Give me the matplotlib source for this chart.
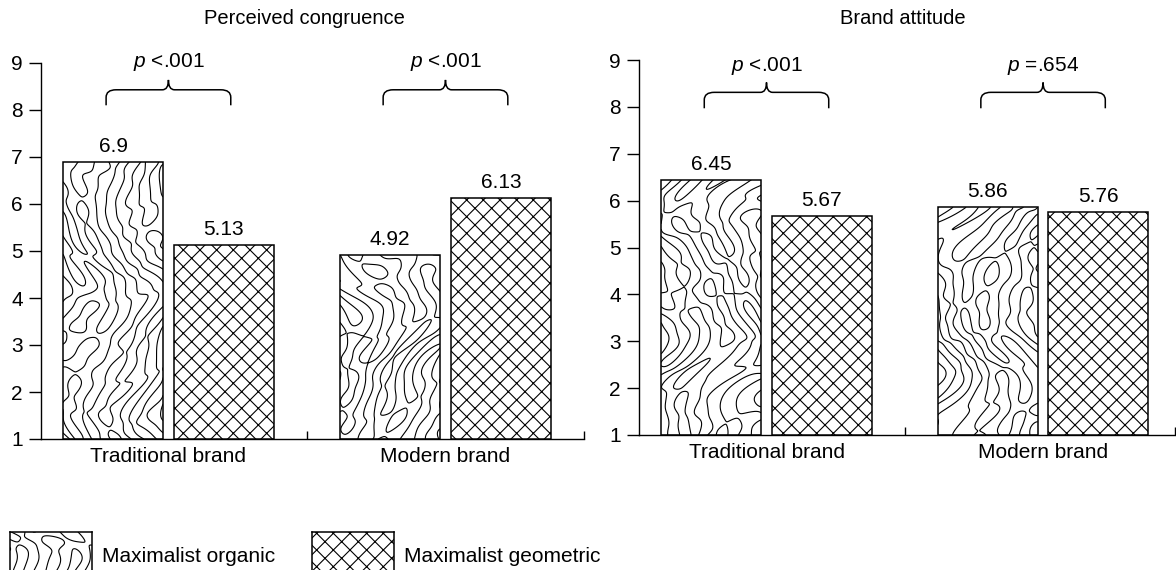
import numpy as np
import matplotlib
matplotlib.use("Agg")
import matplotlib.pyplot as plt
from matplotlib.patches import Rectangle, PathPatch
from matplotlib.path import Path

plt.rcParams['font.family'] = ['Liberation Sans', 'DejaVu Sans']
plt.rcParams['mathtext.fontset'] = 'custom'
plt.rcParams['mathtext.it'] = 'Liberation Sans:italic'
plt.rcParams['mathtext.rm'] = 'Liberation Sans'
plt.rcParams['hatch.linewidth'] = 0.8
plt.rcParams['hatch.color'] = 'black'

# ---------------- data ----------------
groups = ['Traditional brand', 'Modern brand']
series = ['Maximalist organic', 'Maximalist geometric']
panel_titles = ['Perceived congruence', 'Brand attitude']
congruence_organic = [6.9, 4.92]
congruence_geometric = [5.13, 6.13]
attitude_organic = [6.45, 5.86]
attitude_geometric = [5.67, 5.76]
congruence_p = ['<.001', '<.001']
attitude_p = ['<.001', '=.654']
value_labels_cong = [['6.9', '4.92'], ['5.13', '6.13']]
value_labels_att = [['6.45', '5.86'], ['5.67', '5.76']]
yticks = [1, 2, 3, 4, 5, 6, 7, 8, 9]

# ---------------- styling ----------------
W, H = 1176, 570
fig = plt.figure(figsize=(W / 100, H / 100), dpi=100)

FS = 15
OFFS = [-0.2, 0.2]
BW = 0.362
LW = 1.1

# texture (marbled stripes) parameters -- purely decorative
WAVE_ANGLES = np.deg2rad([0, 15, -15, 32, -35, 60, -65, 90])
WAVE_AMPS = [1.0, 0.85, 0.85, 0.6, 0.6, 0.4, 0.4, 0.3]
WAVELEN = 21.0


def organic_field(u, v, k):
    uu = (u + 22 * np.sin(v / 33.0 + k + 0.7 * np.sin(u / 40.0 + 2 * k))
          + 6 * np.sin(v / 14.0 + 2.3 * k))
    vv = v + 14 * np.sin(u / 27.0 + 0.7 * k)
    F = np.zeros_like(u)
    for i, (ang, amp) in enumerate(zip(WAVE_ANGLES, WAVE_AMPS)):
        ph = ((k + 1) * (i + 1) * 1.37) % (2 * np.pi)
        F += amp * np.cos(2 * np.pi / WAVELEN
                          * (uu * np.cos(ang) + vv * np.sin(ang)) + ph)
    return F


def fill_organic(ax, x0, x1, y0, y1, sx, sy, k, clip):
    nx = int((x1 - x0) * sx) + 40
    ny = int((y1 - y0) * sy) + 40
    X, Y = np.meshgrid(np.linspace(x0, x1, nx), np.linspace(y0, y1, ny))
    F = organic_field((X - x0) * sx, (Y - y0) * sy, k)
    cs = ax.contour(X, Y, F, levels=[0.0], colors='black', linewidths=0.8,
                    linestyles='solid', zorder=2)
    cs.set_clip_path(clip)
    return cs


def brace(ax, xc, hw, y_end, y_bar, y_peak, rx, ry, rx2):
    xl, xr = xc - hw, xc + hw
    verts = [(xl, y_end), (xl, y_bar - ry), (xl, y_bar), (xl + rx, y_bar),
             (xc - rx2, y_bar), (xc, y_bar), (xc, y_peak),
             (xc, y_bar), (xc + rx2, y_bar),
             (xr - rx, y_bar), (xr, y_bar), (xr, y_bar - ry), (xr, y_end)]
    codes = [Path.MOVETO, Path.LINETO, Path.CURVE3, Path.CURVE3,
             Path.LINETO, Path.CURVE3, Path.CURVE3,
             Path.CURVE3, Path.CURVE3,
             Path.LINETO, Path.CURVE3, Path.CURVE3, Path.LINETO]
    ax.add_patch(PathPatch(Path(verts, codes), fill=False, lw=1.1,
                           edgecolor='black', clip_on=False, zorder=4))


panels = [
    dict(rect=(41, 63, 584, 439), xlim=(-0.46, 1.5),
         org=congruence_organic, geo=congruence_geometric,
         labels=value_labels_cong, p=congruence_p,
         br=(8.1, 8.43, 8.64, 9.02), title_x=304),
    dict(rect=(639, 60, 1175, 435), xlim=(-0.461, 1.477),
         org=attitude_organic, geo=attitude_geometric,
         labels=value_labels_att, p=attitude_p,
         br=(7.97, 8.31, 8.52, 8.87), title_x=903),
]

kk = 0
for pi, P in enumerate(panels):
    l, t, r, b = P['rect']
    ax = fig.add_axes([l / W, (H - b) / H, (r - l) / W, (b - t) / H])
    ax.set_xlim(*P['xlim'])
    ax.set_ylim(1, 9)
    sx = (r - l) / (P['xlim'][1] - P['xlim'][0])
    sy = (b - t) / 8.0
    x = np.arange(len(groups))

    org_bars = ax.bar(x + OFFS[0], np.array(P['org']) - 1, BW, bottom=1,
                      color='white', edgecolor='none', zorder=1)
    for i, bar in enumerate(org_bars):
        fill_organic(ax, bar.get_x(), bar.get_x() + bar.get_width(), 1,
                     1 + bar.get_height(), sx, sy, kk, bar)
        kk += 1
    ax.bar(x + OFFS[0], np.array(P['org']) - 1, BW, bottom=1, fill=False,
           edgecolor='black', linewidth=LW, zorder=3)
    ax.bar(x + OFFS[1], np.array(P['geo']) - 1, BW, bottom=1, color='white',
           edgecolor='black', hatch='xx', linewidth=LW, zorder=3)

    for s, vals in enumerate([P['org'], P['geo']]):
        for i, v in enumerate(vals):
            ax.annotate(P['labels'][s][i], (x[i] + OFFS[s], v),
                        xytext=(0, 7), textcoords='offset points',
                        ha='center', va='baseline', fontsize=FS)

    y_end, y_bar, y_peak, y_txt = P['br']
    for i in range(len(groups)):
        brace(ax, x[i], 0.225, y_end, y_bar, y_peak, 0.036, 0.16, 0.022)
        ax.text(x[i], y_txt, f'$p$ {P["p"][i]}', ha='center', va='center',
                fontsize=FS, clip_on=False)

    for sp in ['top', 'right']:
        ax.spines[sp].set_visible(False)
    for sp in ['left', 'bottom']:
        ax.spines[sp].set_linewidth(1.0)
    ax.set_yticks(yticks)
    ax.set_yticklabels([str(v) for v in yticks])
    ax.tick_params(axis='y', length=9, width=1.0, pad=4, labelsize=FS)
    ax.set_xticks([0.5, P['xlim'][1]])
    ax.set_xticklabels(['', ''])
    ax.tick_params(axis='x', which='major', direction='in', length=6,
                   width=1.0)
    ax.set_xticks(x, minor=True)
    ax.set_xticklabels(groups, minor=True)
    ax.tick_params(axis='x', which='minor', length=0, pad=6, labelsize=FS)
    fig.text(P['title_x'] / W, 1 - 19 / H, panel_titles[pi], ha='center',
             va='center', fontsize=14.5)

# ---------------- legend ----------------
sw = [(10, 92), (312, 394)]
txt_x = [102, 404]
for s in range(2):
    x0, x1 = sw[s]
    lax = fig.add_axes([x0 / W, -10 / H, (x1 - x0) / W, 48 / H])
    lax.set_xlim(0, 1)
    lax.set_ylim(0, 1)
    lax.set_xticks([])
    lax.set_yticks([])
    for sp in lax.spines.values():
        sp.set_linewidth(LW)
    if s == 0:
        bg = Rectangle((0, 0), 1, 1, facecolor='white', edgecolor='none',
                       transform=lax.transAxes)
        lax.add_patch(bg)
        fill_organic(lax, 0, 1, 0, 1, x1 - x0, 48, 4, bg)
    else:
        lax.add_patch(Rectangle((0, 0), 1, 1, facecolor='white',
                                edgecolor='black', hatch='xx', linewidth=0))
    fig.text(txt_x[s] / W, (H - 556) / H, series[s], ha='left', va='center',
             fontsize=FS)

fig.savefig('out.png', dpi=100)
